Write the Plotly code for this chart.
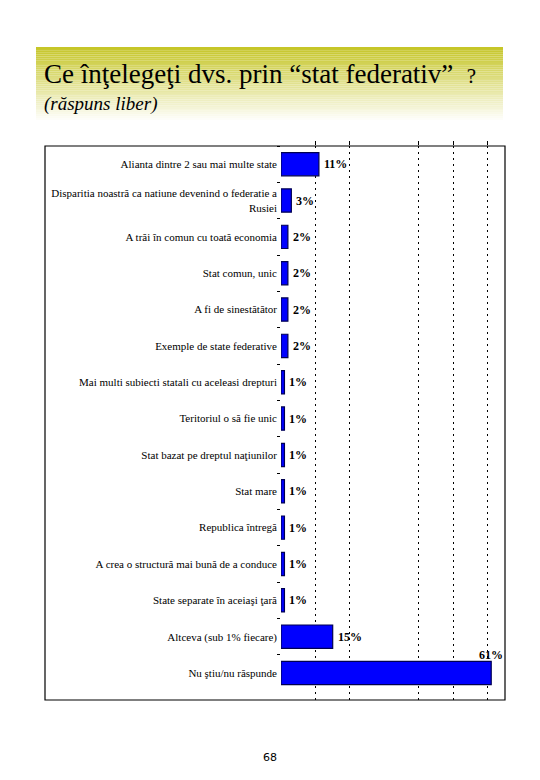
import plotly.graph_objects as go

# pagina are margine implicita de 8px in browser
OFF = 8
W, H = 540 - OFF, 780 - OFF

categories = [
    "Alianta dintre 2 sau mai multe state",
    "Disparitia noastră ca natiune devenind o federatie a<br>Rusiei",
    "A trăi în comun cu toată economia",
    "Stat comun, unic",
    "A fi de sinestătător",
    "Exemple de state federative",
    "Mai multi subiecti statali cu aceleasi drepturi",
    "Teritoriul o să fie unic",
    "Stat bazat pe dreptul naţiunilor",
    "Stat mare",
    "Republica întregă",
    "A crea o structură mai bună de a conduce",
    "State separate în aceiaşi ţară",
    "Altceva (sub 1% fiecare)",
    "Nu ştiu/nu răspunde",
]
values = [11, 3, 2, 2, 2, 2, 1, 1, 1, 1, 1, 1, 1, 15, 61]
grid_ticks = [10, 20, 40, 50, 60]

SERIF = "Liberation Serif, Times New Roman, serif"


def px(x):
    return (x - OFF) / W


def py(y):
    return 1 - (y - OFF) / H


fig = go.Figure()
fig.add_trace(go.Bar(
    x=values,
    y=categories,
    orientation="h",
    marker=dict(color="#0000FF", line=dict(color="#000050", width=1.2)),
    width=0.64,
    hoverinfo="x+y",
))

# etichete procente
for cat, v in zip(categories, values):
    if v == max(values):
        fig.add_annotation(x=v, y=cat, text=f"<b>{v}%</b>", showarrow=False,
                           xanchor="center", yanchor="bottom", yshift=9, xshift=0,
                           font=dict(family=SERIF, size=12, color="black"))
    else:
        fig.add_annotation(x=v, y=cat, text=f"<b>{v}%</b>", showarrow=False,
                           xanchor="left", xshift=3,
                           font=dict(family=SERIF, size=12, color="black"))

# banda de titlu cu degrade
n = 40
y0, y1 = 47, 122
for i in range(n):
    t = i / (n - 1)
    r = int(198 + (255 - 198) * t)
    g = int(198 + (255 - 198) * t)
    b = int(40 + (255 - 40) * t)
    fig.add_shape(type="rect", xref="paper", yref="paper",
                  x0=px(36), x1=px(503),
                  y0=py(y0 + (y1 - y0) * i / n), y1=py(y0 + (y1 - y0) * (i + 1) / n),
                  line=dict(width=0), fillcolor=f"rgb({r},{g},{b})", layer="below")

# chenar
fig.add_shape(type="rect", xref="paper", yref="paper",
              x0=px(45), x1=px(505), y0=py(700), y1=py(146),
              line=dict(color="black", width=1.2))

fig.add_annotation(xref="paper", yref="paper", x=px(42), y=py(74),
                   text="Ce înţelegeţi dvs. prin “stat federativ”  <span style='font-size:21px'>?</span>",
                   showarrow=False, xanchor="left", yanchor="middle",
                   font=dict(family=SERIF, size=27, color="black"))
fig.add_annotation(xref="paper", yref="paper", x=px(42), y=py(104),
                   text="<i>(răspuns liber)</i>",
                   showarrow=False, xanchor="left", yanchor="middle",
                   font=dict(family=SERIF, size=19, color="black"))
fig.add_annotation(xref="paper", yref="paper", x=px(270), y=py(757),
                   text="68", showarrow=False, xanchor="center", yanchor="middle",
                   font=dict(family="DejaVu Sans", size=11, color="black"))

fig.update_layout(
    width=W, height=H, autosize=False,
    margin=dict(l=0, r=0, t=0, b=0),
    paper_bgcolor="white", plot_bgcolor="rgba(0,0,0,0)",
    font=dict(family=SERIF, color="black"),
    showlegend=False,
    bargap=0.35,
    xaxis=dict(domain=[px(281), px(505)], range=[0, 65], side="top",
               tickvals=grid_ticks, showticklabels=False,
               ticks="outside", ticklen=4, tickcolor="black",
               showgrid=True, gridcolor="black", griddash="2px,4px", gridwidth=1,
               zeroline=False, showline=False),
    yaxis=dict(domain=[py(700), py(146)], autorange="reversed",
               tickson="boundaries", ticks="outside", ticklen=3, tickcolor="black",
               ticklabelstandoff=3,
               tickfont=dict(family=SERIF, size=11, color="black"),
               showgrid=False, zeroline=False, showline=False),
)

fig.write_html("out.html")
